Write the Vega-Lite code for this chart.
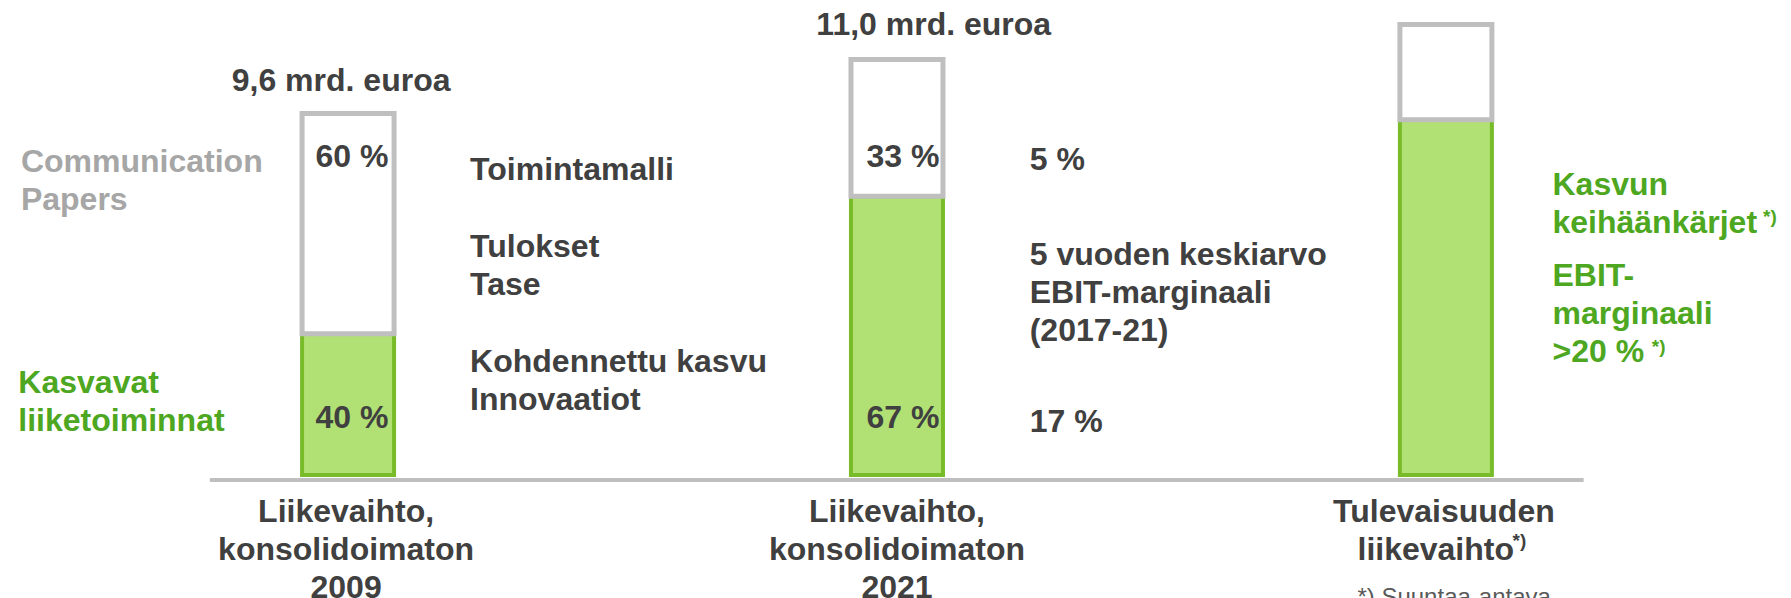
{
  "$schema": "https://vega.github.io/schema/vega-lite/v6.json",
  "width": 1791,
  "height": 598,
  "autosize": "none",
  "padding": 0,
  "background": "white",
  "config": {"view": {"stroke": null}, "text": {"font": "Liberation Sans"}},
  "datasets": {
    "bars": [
      {"x": 1, "y": 0, "y2": 3.75, "seg": "Kasvavat liiketoiminnat"},
      {"x": 2, "y": 0, "y2": 7.4, "seg": "Kasvavat liiketoiminnat"},
      {"x": 3, "y": 0, "y2": 9.43, "seg": "Kasvavat liiketoiminnat"},
      {"x": 1, "y": 3.75, "y2": 9.6, "seg": "Communication Papers"},
      {"x": 2, "y": 7.4, "y2": 11.03, "seg": "Communication Papers"},
      {"x": 3, "y": 9.43, "y2": 11.96, "seg": "Communication Papers"}
    ],
    "axisline": [{"x": 0.7482, "x2": 3.2509, "y": -0.133}],
    "texts": [
      {"t": "9,6 mrd. euroa", "x": 0.9873, "y": 10.197, "kind": "c"},
      {"t": "11,0 mrd. euroa", "x": 2.067, "y": 11.683, "kind": "c"},
      {"t": "60 %", "x": 1.0072, "y": 8.186, "kind": "c"},
      {"t": "40 %", "x": 1.0072, "y": 1.248, "kind": "c"},
      {"t": "33 %", "x": 2.0109, "y": 8.186, "kind": "c"},
      {"t": "67 %", "x": 2.0109, "y": 1.248, "kind": "c"},
      {"t": "Liikevaihto,\nkonsolidoimaton\n2009", "x": 0.9964, "y": -1.24, "kind": "c"},
      {"t": "Liikevaihto,\nkonsolidoimaton\n2021", "x": 2.0, "y": -1.24, "kind": "c"},
      {"t": "Tulevaisuuden", "x": 2.9964, "y": -1.24, "kind": "c"},
      {"t": "liikevaihto", "x": 2.9815, "y": -2.257, "kind": "c"},
      {"t": "Toimintamalli", "x": 1.2223, "y": 7.833, "kind": "l"},
      {"t": "Tulokset\nTase", "x": 1.2223, "y": 5.797, "kind": "l"},
      {"t": "Kohdennettu kasvu\nInnovaatiot", "x": 1.2223, "y": 2.743, "kind": "l"},
      {"t": "5 %", "x": 2.2418, "y": 8.099, "kind": "l"},
      {"t": "5 vuoden keskiarvo\nEBIT-marginaali\n(2017-21)", "x": 2.2418, "y": 5.576, "kind": "l"},
      {"t": "17 %", "x": 2.2418, "y": 1.15, "kind": "l"},
      {"t": "Communication\nPapers", "x": 0.404, "y": 8.054, "kind": "g"},
      {"t": "Kasvavat\nliiketoiminnat", "x": 0.3993, "y": 2.169, "kind": "gr"},
      {"t": "Kasvun\nkeihäänkärjet", "x": 3.1942, "y": 7.435, "kind": "gr"},
      {"t": "EBIT-\nmarginaali\n>20 %", "x": 3.1942, "y": 5.019, "kind": "gr"},
      {"t": "*)", "x": 3.5779, "y": 6.691, "kind": "sg"},
      {"t": "*)", "x": 3.375, "y": 3.247, "kind": "sg"},
      {"t": "*)", "x": 3.1214, "y": -1.912, "kind": "sd"},
      {"t": "*) Suuntaa-antava", "x": 2.8388, "y": -3.452, "kind": "f"}
    ]
  },
  "encoding": {
    "x": {"field": "x", "type": "quantitative", "scale": {"domain": [0.375, 3.6196], "nice": false, "zero": false}, "axis": null},
    "y": {"field": "y", "type": "quantitative", "scale": {"domain": [-3.266, 12.613], "nice": false, "zero": false}, "axis": null}
  },
  "layer": [
    {
      "data": {"name": "axisline"},
      "mark": {"type": "rule", "stroke": "#bfbfbf", "strokeWidth": 4},
      "encoding": {"x2": {"field": "x2"}}
    },
    {
      "data": {"name": "bars"},
      "transform": [{"filter": "datum.seg === 'Kasvavat liiketoiminnat'"}],
      "mark": {"type": "bar", "width": 92, "fill": "#b1e174", "stroke": "#78bc2a", "strokeWidth": 4},
      "encoding": {"y2": {"field": "y2"}}
    },
    {
      "data": {"name": "bars"},
      "transform": [{"filter": "datum.seg === 'Communication Papers'"}],
      "mark": {"type": "bar", "width": 92, "fill": "#ffffff", "stroke": "#bfbfbf", "strokeWidth": 5},
      "encoding": {"y2": {"field": "y2"}}
    },
    {
      "data": {"name": "texts"},
      "transform": [{"filter": "datum.kind === 'c'"}],
      "mark": {"type": "text", "align": "center", "baseline": "alphabetic", "fontSize": 32, "fontWeight": "bold", "color": "#404040", "lineBreak": "\n", "lineHeight": 38},
      "encoding": {"text": {"field": "t"}}
    },
    {
      "data": {"name": "texts"},
      "transform": [{"filter": "datum.kind === 'l'"}],
      "mark": {"type": "text", "align": "left", "baseline": "alphabetic", "fontSize": 32, "fontWeight": "bold", "color": "#404040", "lineBreak": "\n", "lineHeight": 38},
      "encoding": {"text": {"field": "t"}}
    },
    {
      "data": {"name": "texts"},
      "transform": [{"filter": "datum.kind === 'g'"}],
      "mark": {"type": "text", "align": "left", "baseline": "alphabetic", "fontSize": 32, "fontWeight": "bold", "color": "#a6a6a6", "lineBreak": "\n", "lineHeight": 38},
      "encoding": {"text": {"field": "t"}}
    },
    {
      "data": {"name": "texts"},
      "transform": [{"filter": "datum.kind === 'gr'"}],
      "mark": {"type": "text", "align": "left", "baseline": "alphabetic", "fontSize": 32, "fontWeight": "bold", "color": "#4ea721", "lineBreak": "\n", "lineHeight": 38},
      "encoding": {"text": {"field": "t"}}
    },
    {
      "data": {"name": "texts"},
      "transform": [{"filter": "datum.kind === 'sg'"}],
      "mark": {"type": "text", "align": "left", "baseline": "alphabetic", "fontSize": 19, "fontWeight": "bold", "color": "#4ea721"},
      "encoding": {"text": {"field": "t"}}
    },
    {
      "data": {"name": "texts"},
      "transform": [{"filter": "datum.kind === 'sd'"}],
      "mark": {"type": "text", "align": "left", "baseline": "alphabetic", "fontSize": 19, "fontWeight": "bold", "color": "#404040"},
      "encoding": {"text": {"field": "t"}}
    },
    {
      "data": {"name": "texts"},
      "transform": [{"filter": "datum.kind === 'f'"}],
      "mark": {"type": "text", "align": "left", "baseline": "alphabetic", "fontSize": 24, "fontWeight": "normal", "color": "#595959"},
      "encoding": {"text": {"field": "t"}}
    }
  ]
}
